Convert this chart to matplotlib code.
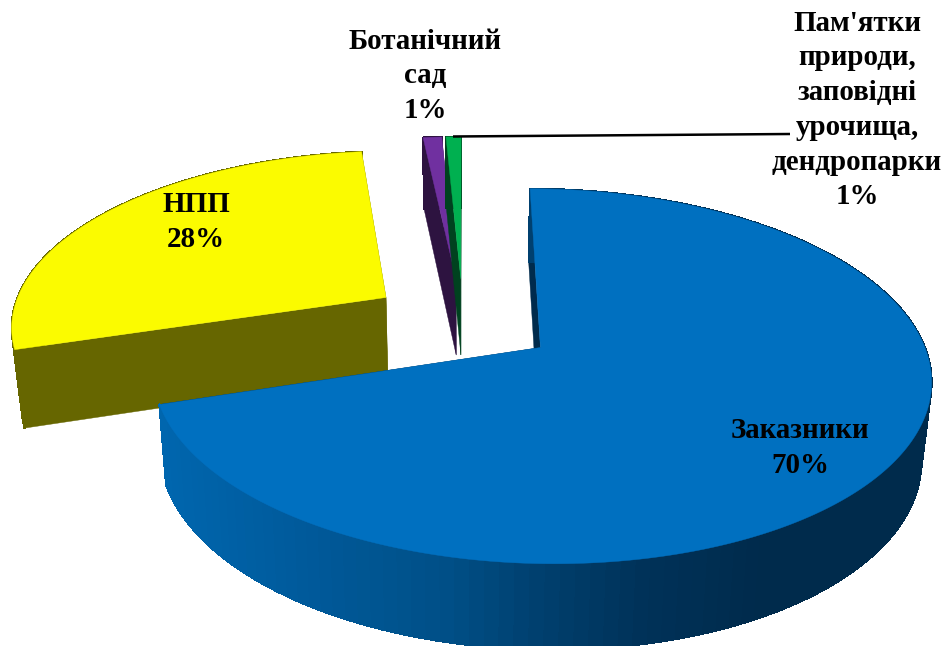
import numpy as np
import matplotlib
matplotlib.use("Agg")
import matplotlib.pyplot as plt
from matplotlib.collections import PolyCollection
from matplotlib.colors import to_rgb

# --- data
categories = ["Заказники", "НПП", "Ботанічний\nсад",
              "Пам'ятки\nприроди,\nзаповідні\nурочища,\nдендропарки"]
shares = [70.2, 28.1, 0.94, 0.76]
percent_labels = ["70%", "28%", "1%", "1%"]

# --- style
top_colors = ["#0070C0", "#FBFB00", "#7030A0", "#00B050"]
wall_colors = [None, "#666600", "#2D1340", "#00421F"]
shade_x = [160, 300, 450, 540, 640, 760, 945]
shade_c = ["#0066AE", "#005A9B", "#004F86", "#003F6E", "#003259", "#002B4C", "#002B4C"]
label_xy = [(800, 448), (196, 222), (425, 76), (857, 110)]

# --- projection of the pie plane to the canvas
X0, Y0, R, A, K = 463.0, 321.0, 376.0, 175.0, 0.15
EXPLODE = 0.25
SX = 0.978


def top_pt(u, v):
    w = 1 + K * v
    return X0 + R * u / w, Y0 - A * v / w


def bottom_pt(x, y):
    return X0 + SX * (x - X0), y + 71 + 0.035 * (y - 137)


def shade(x):
    rgb = np.array([to_rgb(c) for c in shade_c])
    return tuple(np.interp(x, shade_x, rgb[:, i]) for i in range(3))


fig = plt.figure(figsize=(9.45, 6.46), dpi=100, facecolor="white")
ax = fig.add_axes([0, 0, 1, 1])
ax.set_xlim(0, 945)
ax.set_ylim(646, 0)
ax.axis("off")

total = sum(shares)
edges = np.cumsum([0] + shares) / total * 2 * np.pi
order = [1, 2, 3, 0]

for i in order:
    a0, a1 = edges[i], edges[i + 1]
    mid = (a0 + a1) / 2
    cu, cv = EXPLODE * np.sin(mid), EXPLODE * np.cos(mid)
    t = np.linspace(a0, a1, max(8, int((a1 - a0) * 30)))
    tf = np.linspace(a0, a1, max(8, int((a1 - a0) * 120)))
    face = np.array([top_pt(cu + np.sin(a), cv + np.cos(a)) for a in tf])
    rim = np.array([top_pt(cu + np.sin(a), cv + np.cos(a)) for a in t])
    apex = np.array(top_pt(cu, cv))
    rim_b = np.array([bottom_pt(*p) for p in rim])
    apex_b = np.array(bottom_pt(*apex))

    quads = [[rim[j], rim[j + 1], rim_b[j + 1], rim_b[j]]
             for j in range(len(t) - 1)]
    mids = [(rim[j][0] + rim[j + 1][0]) / 2 for j in range(len(t) - 1)]
    flat = wall_colors[i] or "#002B4C"
    radial = [[apex, rim[0], rim_b[0], apex_b],
              [apex, rim[-1], rim_b[-1], apex_b]]
    z = 2 + order.index(i) * 2
    ax.add_collection(PolyCollection(radial, facecolors=flat, edgecolors=flat,
                                     linewidths=0.3, zorder=z))
    cols = [shade(m) for m in mids] if wall_colors[i] is None else [flat] * len(quads)
    ax.add_collection(PolyCollection(quads, facecolors=cols, edgecolors=cols,
                                     linewidths=0.8, antialiaseds=False, zorder=z))
    ax.add_patch(plt.Polygon(np.vstack([apex, face]), closed=True,
                             facecolor=top_colors[i], edgecolor=top_colors[i],
                             linewidth=0.3, zorder=z + 1))

ax.plot([453, 790], [136.5, 134], color="black", lw=1.8, zorder=20,
        solid_capstyle="butt")

for name, pct, (x, y) in zip(categories, percent_labels, label_xy):
    ax.text(x, y, f"{name}\n{pct}", ha="center", va="center", color="black",
            family=["Liberation Serif", "DejaVu Serif"], fontweight="bold",
            fontsize=20.9, linespacing=1.37, zorder=30)

fig.savefig("out.png", dpi=100)
